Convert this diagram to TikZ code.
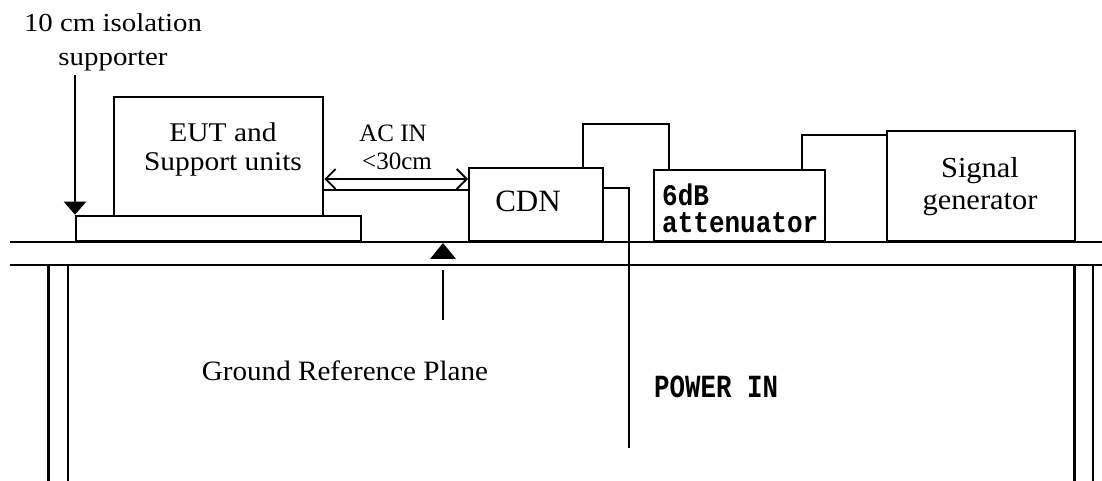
\documentclass[tikz,border=0pt]{standalone}
\usepackage{graphicx}
\usepackage{fontspec}
\setmainfont{Liberation Serif}
\newfontfamily\monob{Liberation Mono}
\usetikzlibrary{arrows.meta}
\newcommand\wx[2]{\scalebox{#1}[1]{#2}}
\newcommand\hy[2]{\scalebox{1}[#1]{#2}}
\tikzset{
  box/.style={draw, line width=2.3bp, inner sep=0, anchor=south west},
  cable/.style={line width=2.2bp},
  gline/.style={line width=2.8bp},
  serif/.style={inner sep=0, anchor=base, font=\fontsize{#1}{#1}\selectfont},
  mono/.style={inner sep=0, anchor=base west, font=\monob\bfseries\fontsize{26bp}{30bp}\selectfont},
}
\begin{document}
\begin{tikzpicture}[x=1bp,y=-1bp]
\useasboundingbox (0,0) rectangle (1102,481);

% ground reference plane and legs
\draw[gline] (10,242) -- (1102,242);
\draw[gline] (10,265) -- (1102,265);
\draw[line width=3bp] (48,265) -- (48,481);
\draw[line width=2bp] (68,265) -- (68,481);
\draw[line width=3bp] (1074,265) -- (1074,481);
\draw[line width=2bp] (1093,265) -- (1093,481);

% boxes
\node[box, minimum width=285bp, minimum height=25bp] (plat) at (75,242) {};
\node[box, minimum width=209bp, minimum height=119bp] (eut) at (113,217) {};
\node[box, minimum width=134bp, minimum height=73bp] (cdn) at (468,242) {};
\node[box, minimum width=171bp, minimum height=71bp] (att) at (653,242) {};
\node[box, minimum width=188bp, minimum height=110bp] (sig) at (886,242) {};

% texts
\node[serif=26bp] (iso1) at (113,32) {\wx{1.11}{10 cm isolation}};
\node[serif=26bp] (iso2) at (113,66) {\wx{1.11}{supporter}};
\node[serif=27bp] (eut1) at (223,142) {\wx{1.09}{EUT and}};
\node[serif=27bp] (eut2) at (223,171) {\wx{1.09}{Support units}};
\node[serif=25bp] (ac1) at (393,142) {AC IN};
\node[serif=25bp] (ac2) at (397,170) {<30cm};
\node[serif=31bp] (cdnt) at (528,212) {CDN};
\node[mono] (att1) at (662,206) {\hy{1.15}{6dB}};
\node[mono] (att2) at (662,233) {\hy{1.15}{attenuator}};
\node[serif=29bp] (sig1) at (980,178) {\wx{1.05}{Signal}};
\node[serif=29bp] (sig2) at (980,210) {\wx{1.05}{generator}};
\node[serif=28bp] (grp) at (345,381) {\wx{1.04}{Ground Reference Plane}};
\node[mono, font=\monob\bfseries\fontsize{25.8bp}{30bp}\selectfont] (pwr) at (654,397) {\hy{1.25}{POWER IN}};

% isolation supporter arrow
\coordinate (isotop) at (75,75);
\draw[cable, -{Triangle[length=13bp,width=22bp]}] (isotop) -- (plat.north west);

% ground reference plane arrow
\coordinate (gtip) at (443,243);
\coordinate (gtail) at (443,320);
\fill (gtip) -- (430,259) -- (456,259) -- cycle;
\draw[line width=2bp] (gtail) -- (443,270);

% cables
\draw[cable] (eut.east |- 0,190) -- (cdn.west |- 0,190);
\draw[line width=1.8bp, {Straight Barb[length=10bp,width=20bp]}-{Straight Barb[length=10bp,width=20bp]}]
  (eut.east |- 0,179) -- (cdn.west |- 0,179);
\draw[cable] (cdn.north -| 583,0) -- (583,124) -- (669,124) -- (att.north -| 669,0);
\draw[cable] (att.north -| 802,0) -- (802,135) -- (sig.west |- 0,135);
\coordinate (pwrend) at (629,448);
\draw[cable] (cdn.east |- 0,188) -- (629,188) -- (pwrend);
\end{tikzpicture}
\end{document}
